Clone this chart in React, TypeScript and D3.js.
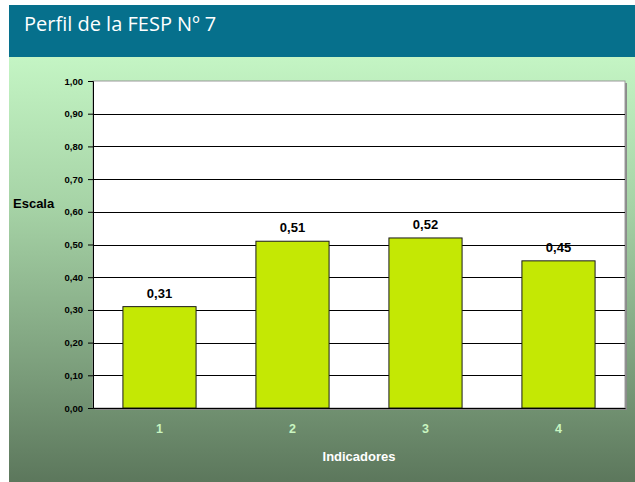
import { useEffect, useRef } from 'react';
import * as d3 from 'd3';

const categories = ['1', '2', '3', '4'];
const values = [0.31, 0.51, 0.52, 0.45];
const yTicks = [0, 0.1, 0.2, 0.3, 0.4, 0.5, 0.6, 0.7, 0.8, 0.9, 1.0];

const fmt = (v: number) => v.toFixed(2).replace('.', ',');

const App = () => {
  const ref = useRef<SVGSVGElement>(null);

  useEffect(() => {
    const svg = d3.select(ref.current);
    svg.selectAll('*').remove();

    const W = 635;
    const H = 482;
    const margin = { top: 81, right: 10, bottom: 74, left: 93 };
    const width = 625 - margin.left;
    const height = 408 - margin.top;

    const defs = svg.append('defs');
    const grad = defs.append('linearGradient')
      .attr('id', 'bg')
      .attr('x1', 0).attr('y1', 0).attr('x2', 0).attr('y2', 1);
    grad.append('stop').attr('offset', '0%').attr('stop-color', '#c4f5c4');
    grad.append('stop').attr('offset', '35%').attr('stop-color', '#a6d3a6');
    grad.append('stop').attr('offset', '75%').attr('stop-color', '#7a9c7a');
    grad.append('stop').attr('offset', '100%').attr('stop-color', '#5c775c');

    // page background
    svg.append('rect').attr('width', W).attr('height', H).attr('fill', '#ffffff');
    svg.append('rect')
      .attr('x', 9).attr('y', 57)
      .attr('width', W - 9).attr('height', H - 57)
      .attr('fill', 'url(#bg)');

    // header
    svg.append('rect')
      .attr('x', 9).attr('y', 5)
      .attr('width', W - 9).attr('height', 52)
      .attr('fill', '#06708c');
    svg.append('text')
      .attr('x', 24).attr('y', 31)
      .attr('fill', '#ffffff')
      .attr('font-family', 'Open Sans, DejaVu Sans, sans-serif')
      .attr('font-size', 20)
      .text('Perfil de la FESP Nº 7');

    const g = svg.append('g')
      .attr('transform', `translate(${margin.left},${margin.top})`);

    const x = d3.scaleBand()
      .domain(categories)
      .range([0, width])
      .paddingInner(0.45)
      .paddingOuter(0.225);

    const y = d3.scaleLinear().domain([0, 1]).range([height, 0]);

    // plot shadow + area
    g.append('rect')
      .attr('x', 2).attr('y', 2)
      .attr('width', width).attr('height', height)
      .attr('fill', '#8a8a8a');
    g.append('rect')
      .attr('width', width).attr('height', height)
      .attr('fill', '#ffffff')
      .attr('stroke', '#9a9a9a')
      .attr('stroke-width', 1);

    // gridlines
    g.selectAll('.grid')
      .data(yTicks.slice(1, -1))
      .enter().append('line')
      .attr('x1', 0).attr('x2', width)
      .attr('y1', d => Math.round(y(d)) + 0.5)
      .attr('y2', d => Math.round(y(d)) + 0.5)
      .attr('stroke', '#000000')
      .attr('stroke-width', 1);

    // bars
    g.selectAll('.bar')
      .data(values)
      .enter().append('rect')
      .attr('x', (d, i) => x(categories[i])!)
      .attr('y', d => y(d))
      .attr('width', x.bandwidth())
      .attr('height', d => height - y(d))
      .attr('fill', '#c4e804')
      .attr('stroke', '#1a1a1a')
      .attr('stroke-width', 1);

    g.selectAll('.val')
      .data(values)
      .enter().append('text')
      .attr('x', (d, i) => x(categories[i])! + x.bandwidth() / 2)
      .attr('y', d => y(d) - 9)
      .attr('text-anchor', 'middle')
      .attr('font-family', 'Liberation Sans, Arial, sans-serif')
      .attr('font-weight', 'bold')
      .attr('font-size', 13)
      .attr('fill', '#000000')
      .text(d => fmt(d));

    // y axis
    const yAxis = g.append('g')
      .call(d3.axisLeft(y).tickValues(yTicks).tickSize(5).tickPadding(5).tickFormat(d => fmt(+d)));
    yAxis.select('.domain').attr('stroke', '#000000');
    yAxis.selectAll('line').attr('stroke', '#000000');
    yAxis.selectAll('text')
      .attr('font-family', 'Liberation Sans, Arial, sans-serif')
      .attr('font-weight', 'bold')
      .attr('font-size', 9.5)
      .attr('fill', '#000000');

    // x axis
    const xAxis = g.append('g')
      .attr('transform', `translate(0,${height})`)
      .call(d3.axisBottom(x).tickSize(0).tickPadding(16));
    xAxis.select('.domain').attr('stroke', '#000000');
    xAxis.selectAll('text')
      .attr('font-family', 'Liberation Sans, Arial, sans-serif')
      .attr('font-weight', 'bold')
      .attr('font-size', 12.5)
      .attr('fill', '#c8f5c0');

    svg.append('text')
      .attr('x', margin.left + width / 2)
      .attr('y', 461)
      .attr('text-anchor', 'middle')
      .attr('font-family', 'Liberation Sans, Arial, sans-serif')
      .attr('font-weight', 'bold')
      .attr('font-size', 13)
      .attr('fill', '#ffffff')
      .text('Indicadores');

    svg.append('text')
      .attr('x', 13)
      .attr('y', 208)
      .attr('font-family', 'Liberation Sans, Arial, sans-serif')
      .attr('font-weight', 'bold')
      .attr('font-size', 13)
      .attr('fill', '#000000')
      .text('Escala');
  }, []);

  return (
    <svg
      ref={ref}
      width={635}
      height={482}
      style={{ position: 'absolute', left: 0, top: 0 }}
    />
  );
};

export default App;
